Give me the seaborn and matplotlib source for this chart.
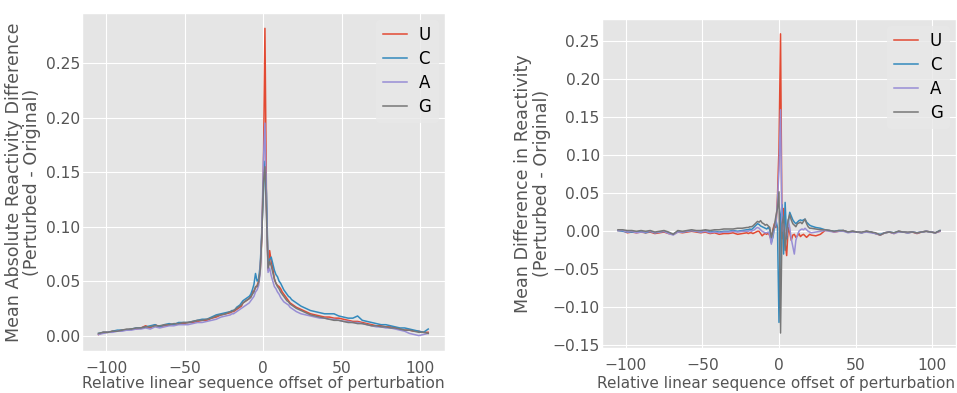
import numpy as np
import pandas as pd
import matplotlib
matplotlib.use("Agg")
import matplotlib.pyplot as plt
import seaborn as sns

# ---------------- data ----------------
bases = ["U", "C", "A", "G"]
colors = ["#E24A33", "#348ABD", "#988ED5", "#777777"]

offsets = np.concatenate([np.arange(-105, -20, 3), np.arange(-20, 21, 1), np.arange(21, 106, 3)])

# Left panel: mean absolute reactivity difference
abs_U = [0.001,0.003,0.003,0.004,0.004,0.005,0.005,0.006,0.006,0.007,0.009,0.007,0.010,0.008,0.009,0.010,0.010,0.011,0.011,0.012,0.012,0.013,0.014,0.014,0.016,0.017,0.019,0.020,0.021,
         0.022,0.022,0.023,0.024,0.025,0.026,0.027,0.030,0.031,0.032,0.033,0.034,0.036,0.040,0.041,0.044,0.046,0.050,0.060,0.090,0.150,0.282,0.120,0.060,0.078,0.068,0.062,0.052,0.048,0.046,0.045,0.043,0.040,0.038,0.036,0.034,0.032,0.030,0.029,0.028,0.027,
         0.026,0.024,0.022,0.020,0.019,0.018,0.017,0.017,0.016,0.016,0.015,0.014,0.013,0.013,0.012,0.011,0.010,0.009,0.009,0.008,0.008,0.007,0.006,0.005,0.005,0.004,0.004,0.003,0.003]
abs_C = [0.002,0.003,0.003,0.004,0.005,0.005,0.005,0.006,0.007,0.007,0.008,0.009,0.010,0.008,0.010,0.011,0.010,0.012,0.012,0.012,0.013,0.014,0.015,0.015,0.017,0.019,0.020,0.021,0.022,
         0.023,0.023,0.024,0.026,0.027,0.028,0.030,0.032,0.033,0.034,0.035,0.036,0.038,0.042,0.047,0.057,0.050,0.052,0.065,0.095,0.130,0.160,0.130,0.063,0.070,0.072,0.066,0.060,0.056,0.054,0.050,0.048,0.045,0.042,0.040,0.038,0.036,0.035,0.033,0.032,0.031,
         0.030,0.027,0.025,0.023,0.022,0.021,0.020,0.020,0.020,0.018,0.017,0.016,0.016,0.018,0.014,0.013,0.012,0.011,0.010,0.010,0.009,0.008,0.007,0.007,0.006,0.005,0.004,0.003,0.006]
abs_A = [0.001,0.002,0.003,0.003,0.004,0.004,0.005,0.005,0.006,0.006,0.007,0.006,0.008,0.007,0.008,0.009,0.009,0.010,0.010,0.010,0.011,0.012,0.012,0.013,0.014,0.015,0.017,0.018,0.019,
         0.020,0.020,0.021,0.022,0.023,0.024,0.025,0.026,0.027,0.028,0.029,0.030,0.032,0.034,0.036,0.040,0.042,0.046,0.058,0.095,0.160,0.195,0.115,0.058,0.062,0.055,0.050,0.045,0.043,0.040,0.038,0.035,0.033,0.031,0.030,0.029,0.028,0.026,0.025,0.024,0.023,
         0.022,0.020,0.019,0.018,0.017,0.016,0.016,0.015,0.015,0.014,0.013,0.013,0.012,0.012,0.011,0.010,0.009,0.008,0.008,0.007,0.007,0.006,0.005,0.004,0.002,0.001,0.000,0.001,0.002]
abs_G = [0.002,0.003,0.003,0.004,0.004,0.005,0.006,0.006,0.007,0.007,0.008,0.008,0.009,0.009,0.010,0.010,0.011,0.011,0.012,0.012,0.013,0.014,0.014,0.015,0.016,0.018,0.019,0.020,0.022,
         0.022,0.023,0.024,0.025,0.026,0.027,0.028,0.030,0.031,0.032,0.033,0.034,0.035,0.038,0.040,0.045,0.045,0.049,0.060,0.090,0.140,0.155,0.110,0.062,0.068,0.064,0.058,0.052,0.048,0.045,0.043,0.040,0.038,0.036,0.034,0.032,0.031,0.029,0.028,0.027,0.026,
         0.025,0.023,0.021,0.019,0.018,0.017,0.016,0.015,0.014,0.014,0.013,0.012,0.012,0.011,0.011,0.010,0.009,0.009,0.008,0.008,0.007,0.007,0.006,0.005,0.005,0.004,0.003,0.003,0.002]

# Right panel: mean (signed) reactivity difference
diff_U = [0.001,0.001,-0.002,-0.001,-0.002,-0.001,-0.002,-0.001,-0.003,-0.002,-0.001,-0.003,-0.004,-0.001,-0.002,-0.001,0.000,-0.001,-0.002,-0.001,-0.003,-0.002,-0.004,-0.003,-0.003,-0.002,-0.004,-0.003,-0.002,
          -0.003,-0.002,-0.002,-0.003,-0.002,-0.001,0.000,0.000,-0.003,-0.006,-0.004,-0.003,-0.004,-0.002,-0.006,-0.012,0.002,0.010,0.005,0.045,0.110,0.260,-0.010,0.030,-0.015,-0.032,0.005,-0.002,-0.012,-0.005,-0.004,-0.008,-0.006,-0.003,-0.007,-0.005,-0.004,-0.006,-0.008,-0.006,-0.004,
          -0.005,-0.006,-0.004,0.001,0.001,-0.001,0.000,0.001,-0.001,0.000,-0.001,-0.002,0.000,-0.001,-0.003,-0.005,-0.002,-0.001,-0.003,0.000,-0.001,-0.002,-0.001,-0.003,-0.001,0.000,-0.001,-0.002,0.000]
diff_C = [0.001,0.000,-0.001,-0.001,-0.001,0.000,-0.002,0.000,-0.002,-0.001,0.000,-0.002,-0.004,0.000,-0.001,0.000,0.001,0.000,-0.001,0.001,-0.001,0.000,-0.001,0.000,0.000,0.001,0.000,0.001,0.002,
          0.002,0.003,0.002,0.004,0.006,0.008,0.010,0.009,0.007,0.006,0.005,0.004,0.003,0.005,0.002,-0.015,-0.008,0.004,0.015,0.005,-0.120,0.020,0.035,-0.030,0.038,-0.010,0.010,0.025,0.020,0.015,0.012,0.010,0.012,0.014,0.015,0.014,0.015,0.016,0.012,0.010,0.008,
          0.007,0.005,0.004,0.002,0.001,0.000,0.001,0.001,-0.001,0.000,-0.001,-0.002,0.000,-0.001,-0.003,-0.004,-0.002,-0.001,-0.002,0.000,-0.001,-0.002,-0.001,-0.002,-0.001,0.000,-0.001,-0.002,0.001]
diff_A = [0.001,0.001,-0.001,0.000,-0.002,-0.001,-0.001,0.000,-0.002,-0.001,0.000,-0.003,-0.005,-0.001,-0.001,0.000,0.001,0.000,-0.001,0.000,-0.002,-0.001,-0.002,-0.001,-0.001,0.000,-0.001,0.000,0.000,
          0.000,0.001,0.000,0.001,0.002,0.004,0.005,0.004,0.002,0.000,-0.001,-0.002,-0.002,-0.001,-0.005,-0.017,-0.005,0.006,0.010,0.040,0.080,0.160,0.000,0.010,-0.010,-0.005,0.015,0.005,-0.010,-0.020,-0.030,-0.012,-0.005,0.000,0.002,0.003,0.002,0.004,0.002,0.000,-0.001,
          -0.002,-0.001,0.000,0.001,0.000,-0.001,0.000,0.000,-0.002,-0.001,-0.001,-0.002,-0.001,-0.002,-0.003,-0.005,-0.002,-0.001,-0.003,-0.001,-0.001,-0.002,-0.001,-0.002,-0.001,0.000,-0.001,-0.002,0.000]
diff_G = [0.002,0.002,0.001,0.001,0.000,0.001,0.000,0.001,-0.001,0.000,0.001,-0.001,-0.004,0.001,0.000,0.001,0.002,0.001,0.001,0.002,0.001,0.002,0.002,0.003,0.003,0.003,0.004,0.004,0.005,
          0.005,0.006,0.006,0.007,0.009,0.011,0.013,0.012,0.014,0.011,0.010,0.008,0.009,0.007,0.005,-0.008,0.000,0.008,0.020,0.030,0.052,-0.134,0.010,0.020,-0.025,0.000,0.015,0.022,0.015,0.010,0.008,0.006,0.010,0.011,0.012,0.010,0.013,0.016,0.010,0.006,0.004,
          0.004,0.003,0.002,0.002,0.001,0.000,0.001,0.001,-0.001,0.000,-0.001,-0.001,0.000,-0.001,-0.002,-0.005,-0.002,-0.001,-0.002,0.000,-0.001,-0.001,-0.001,-0.002,-0.001,0.000,-0.001,-0.002,0.001]

xlabel = "Relative linear sequence offset of perturbation"
ylabel_left = "Mean Absolute Reactivity Difference\n(Perturbed - Original)"
ylabel_right = "Mean Difference in Reactivity\n(Perturbed - Original)"


def long_df(series):
    frames = []
    for b, vals in zip(bases, series):
        frames.append(pd.DataFrame({"offset": offsets, "value": vals, "base": b}))
    return pd.concat(frames, ignore_index=True)


df_abs = long_df([abs_U, abs_C, abs_A, abs_G])
df_diff = long_df([diff_U, diff_C, diff_A, diff_G])

# ---------------- style ----------------
plt.style.use("ggplot")
plt.rcParams["font.family"] = ["DejaVu Sans"]

fig = plt.figure(figsize=(9.57, 3.93), dpi=100)
ax1 = fig.add_axes([0.0857, 0.107, 0.379, 0.860])
ax2 = fig.add_axes([0.629, 0.1145, 0.370, 0.8375])

pal = dict(zip(bases, colors))
settings = [(ax1, df_abs, ylabel_left, -0.112, 0.5, -0.074, 11.2),
            (ax2, df_diff, ylabel_right, -0.145, 0.492, -0.084, 11.0)]
for ax, df, yl, lx, xx, ly, xfs in settings:
    sns.lineplot(data=df, x="offset", y="value", hue="base", hue_order=bases,
                 palette=pal, ax=ax, linewidth=1.1, estimator=None, sort=True)
    ax.set_xlabel(xlabel, fontsize=xfs, color="#555555")
    ax.xaxis.set_label_coords(xx, ly)
    ax.set_ylabel(yl, fontsize=12.6, color="#555555", linespacing=1.05)
    ax.yaxis.set_label_coords(lx, 0.5)
    ax.tick_params(axis="both", labelsize=11.2, colors="#555555", length=0)
    ax.tick_params(axis="x", pad=7)
    ax.tick_params(axis="y", pad=1.5)
    ax.set_xticks([-100, -50, 0, 50, 100])
    leg = ax.legend(loc="upper right", fontsize=12, handlelength=1.45,
                    handletextpad=0.7, labelspacing=0.35, borderaxespad=0.4)
    leg.get_frame().set_facecolor("#E8E8E8")
    leg.get_frame().set_edgecolor("#E8E8E8")

ax1.set_yticks([0.0, 0.05, 0.10, 0.15, 0.20, 0.25])
ax2.set_yticks([-0.15, -0.10, -0.05, 0.0, 0.05, 0.10, 0.15, 0.20, 0.25])
ax1.set_yticklabels(["0.00", "0.05", "0.10", "0.15", "0.20", "0.25"])
ax2.set_yticklabels(["\u22120.15", "\u22120.10", "\u22120.05", "0.00", "0.05", "0.10", "0.15", "0.20", "0.25"])

fig.savefig("out.png", dpi=100)
